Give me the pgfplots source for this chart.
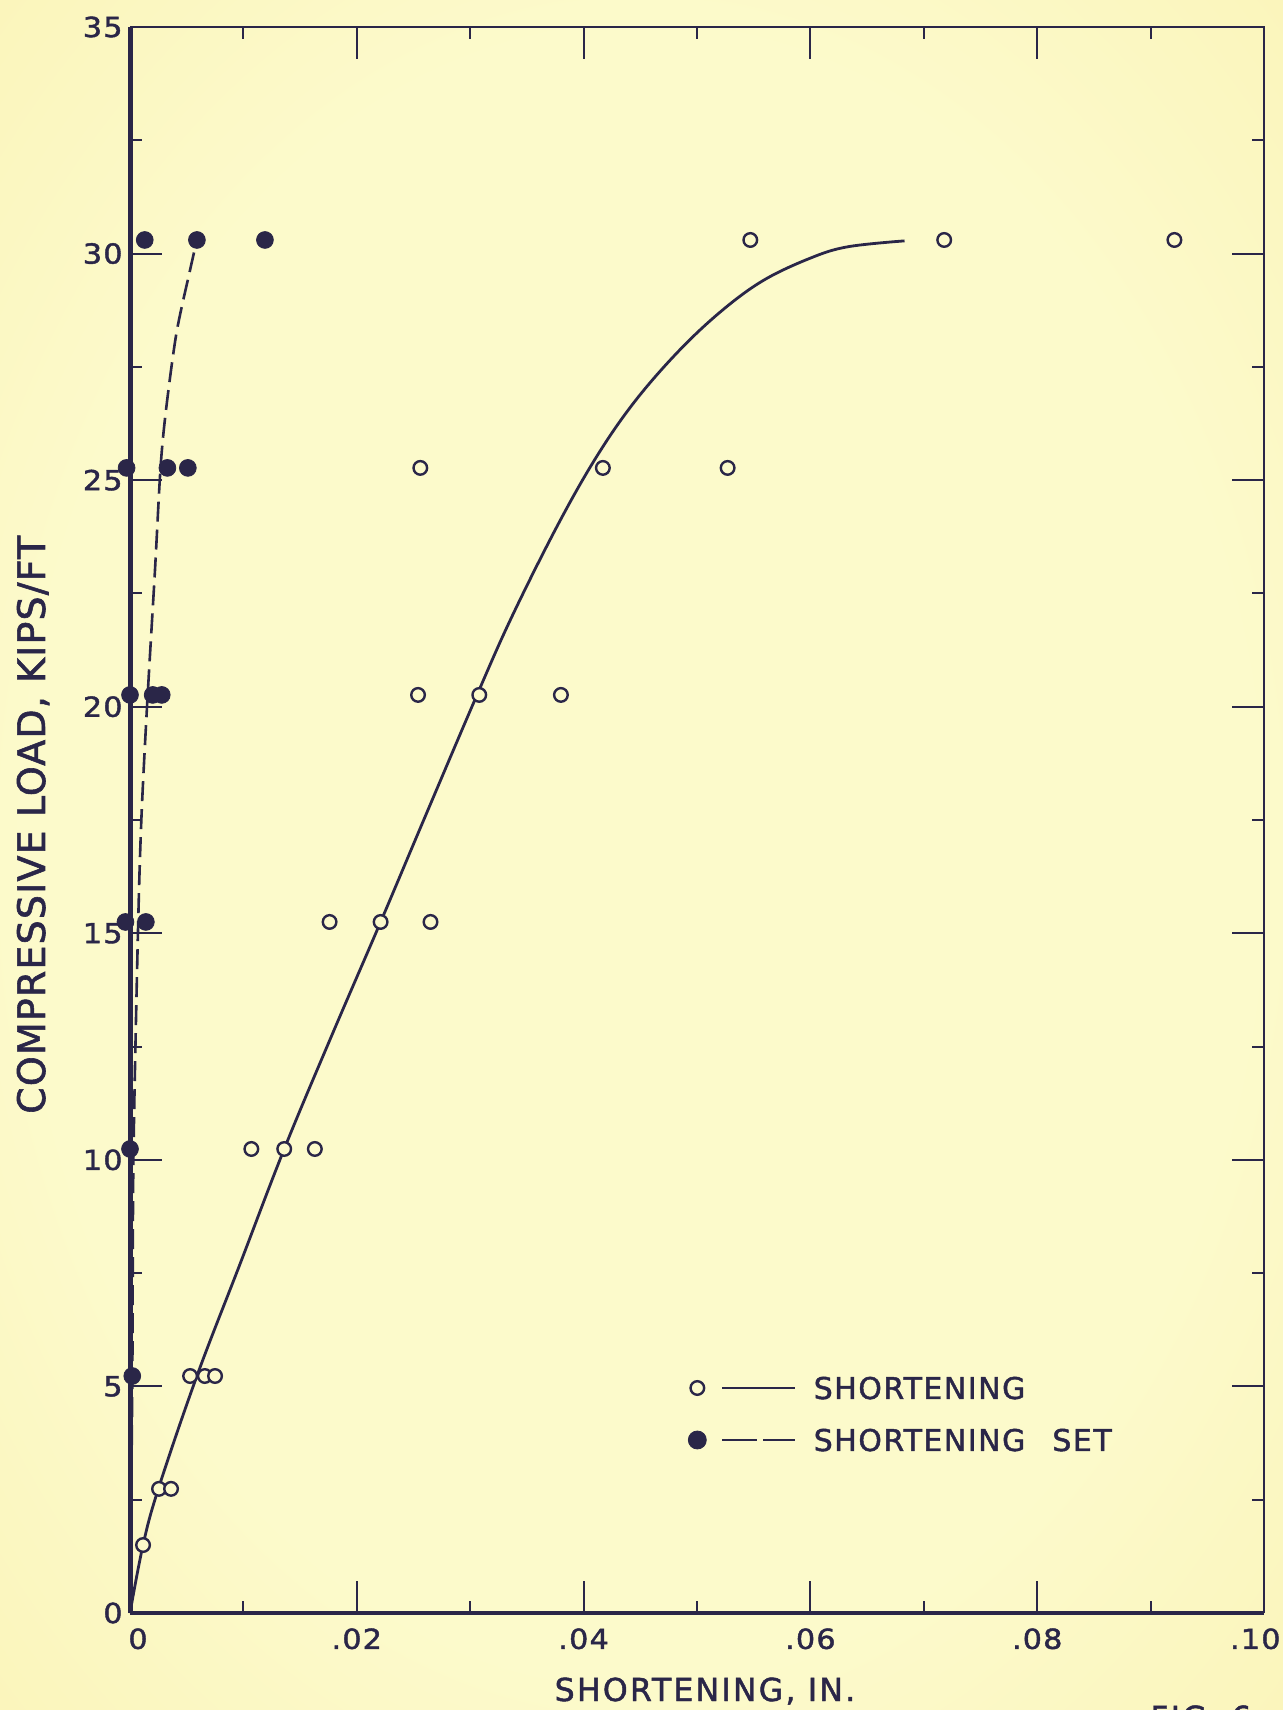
\documentclass[border=0pt]{standalone}
\usepackage{fontspec}
\usepackage{pgfplots}
\pgfplotsset{compat=1.18}
\setmainfont{DejaVu Sans}
\newfontfamily\tickfam[FakeStretch=1.1,LetterSpace=4,FakeBold=1.5]{DejaVu Sans}
\newfontfamily\xlabfam[LetterSpace=7,FakeBold=1.5]{DejaVu Sans}
\newfontfamily\ylabfam[LetterSpace=3,FakeBold=1.5]{DejaVu Sans}
\newfontfamily\legfam[LetterSpace=5,FakeBold=1.5]{DejaVu Sans}
\definecolor{bg}{RGB}{252,250,203}
\definecolor{edg}{RGB}{249,239,168}
\definecolor{ink}{RGB}{42,38,72}
\pgfdeclareradialshading{vign}{\pgfpoint{0bp}{0bp}}{color(0bp)=(bg); color(24bp)=(bg); color(50bp)=(edg); color(72bp)=(edg)}
\begin{document}
\begin{tikzpicture}
\useasboundingbox (0pt,0pt) rectangle (641.5pt,855pt);
\clip (0pt,0pt) rectangle (641.5pt,855pt);
\shade[shading=vign] (0pt,0pt) rectangle (641.5pt,855pt);
\begin{axis}[
  at={(65pt,48.5pt)}, anchor=south west,
  scale only axis, width=567pt, height=793pt,
  xmin=0, xmax=0.1, ymin=0, ymax=35,
  clip=false,
  axis line style={draw=none},
  xtick={0,0.02,0.04,0.06,0.08},
  xticklabels={\hspace*{8pt}0,.02,.04,.06,.08},
  extra x ticks={0.1},
  extra x tick labels={.10},
  extra x tick style={xticklabel style={anchor=north east, xshift=8.5pt}},
  minor xtick={0.01,0.03,0.05,0.07,0.09},
  ytick={0,5,10,15,20,25,30,35},
  yticklabels={0,5,10,15,20,25,30,35},
  minor ytick={2.5,7.5,12.5,17.5,22.5,27.5,32.5},
  tick align=inside,
  major tick length=16pt, minor tick length=6pt,
  every tick/.style={ink, line width=1pt},
  xticklabel style={font=\tickfam\fontsize{13.8}{15}\selectfont, text=ink, inner sep=0pt, anchor=north, yshift=-7.5pt},
  yticklabel style={font=\tickfam\fontsize{13.8}{15}\selectfont, text=ink, inner sep=0pt, anchor=east, xshift=-3.5pt},
  xlabel={SHORTENING, IN.},
  xlabel style={font=\xlabfam\fontsize{15.8}{18}\selectfont, text=ink, inner sep=0pt, at={([yshift=-44pt]axis description cs:0.507,0)}, anchor=base},
  ylabel={COMPRESSIVE LOAD, KIPS/FT},
  ylabel style={font=\ylabfam\fontsize{19}{22}\selectfont, text=ink, inner sep=0pt, at={([xshift=-42.5pt]axis description cs:0,0.497)}, anchor=base},
  legend style={at={(axis description cs:0.492,0.1488)}, anchor=north west, draw=none, fill=none, inner sep=0pt, outer sep=0pt, row sep=15pt, column sep=8.5pt, font=\legfam\fontsize{15}{18}\selectfont, text=ink, nodes={inner sep=0pt, text height=11pt, text depth=0pt}},
  legend cell align=left,
]
% solid curve (shortening)
\addplot[ink, line width=1.4pt, smooth, tension=0.6, forget plot] coordinates {
(0,0) (0.00115,1.5) (0.0025,2.74) (0.0059,5.23) (0.0097,7.7) (0.0136,10.24)
(0.0178,12.75) (0.0221,15.25) (0.0259,17.5) (0.0306,20.26) (0.0337,22.0)
(0.0377,24.0) (0.0411,25.5) (0.0444,26.7) (0.0482,27.8) (0.0520,28.7)
(0.0558,29.4) (0.0600,29.9) (0.0633,30.15) (0.0683,30.28)};
% dashed curve (shortening set)
\addplot[ink, line width=1.3pt, dash pattern=on 10pt off 4pt, smooth, tension=0.5, forget plot] coordinates {
(0,0) (0.0002,5) (0.0003,10) (0.0007,15) (0.0010,17.5) (0.0015,20)
(0.0022,23) (0.0027,25.3) (0.0032,26.6) (0.0041,28.25) (0.0053,29.64) (0.0059,30.3)};
% open circles
\addplot[only marks, mark=*, mark size=3.4pt, mark options={draw=ink, fill=bg, line width=1.2pt}, forget plot] coordinates {
(0.00115,1.50)
(0.00256,2.74) (0.00362,2.74)
(0.0053,5.23) (0.0066,5.23) (0.0075,5.23)
(0.0107,10.24) (0.0136,10.24) (0.0163,10.24)
(0.0176,15.25) (0.0221,15.25) (0.0265,15.25)
(0.0254,20.26) (0.0308,20.26) (0.0380,20.26)
(0.0256,25.27) (0.0417,25.27) (0.0527,25.27)
(0.0547,30.30) (0.0718,30.30) (0.0921,30.30)};
% filled circles
\addplot[only marks, mark=*, mark size=4.2pt, mark options={draw=ink, fill=ink}, forget plot] coordinates {
(0.0002,5.23)
(0.0,10.24)
(-0.0004,15.25) (0.0014,15.25)
(0.0,20.26) (0.0020,20.26) (0.0028,20.26)
(-0.0003,25.27) (0.0033,25.27) (0.0051,25.27)
(0.0013,30.30) (0.0059,30.30) (0.0119,30.30)};
% spines
\draw[ink, line width=2.5pt] (rel axis cs:0,0) -- (rel axis cs:0,1);
\draw[ink, line width=2pt] (rel axis cs:0,0) -- (rel axis cs:1,0);
\draw[ink, line width=1.1pt] (rel axis cs:0,1) -- (rel axis cs:1,1) -- (rel axis cs:1,0);
% legend
\addlegendimage{legend image code/.code={
  \draw[ink, line width=1.2pt, fill=bg] (0pt,0pt) circle (3.4pt);
  \draw[ink, line width=1.4pt] (12.5pt,0pt) -- (49pt,0pt);}}
\addlegendentry{SHORTENING}
\addlegendimage{legend image code/.code={
  \fill[ink] (0pt,0pt) circle (4.5pt);
  \draw[ink, line width=1.4pt, dash pattern=on 17.5pt off 3pt] (12.5pt,0pt) -- (49pt,0pt);}}
\addlegendentry{SHORTENING\hspace{0.9em}SET}
\end{axis}
\node[anchor=north west, inner sep=0pt, text=ink, font=\xlabfam\fontsize{15.8}{18}\selectfont] at (575pt,2.5pt) {FIG. 6};
\end{tikzpicture}
\end{document}
